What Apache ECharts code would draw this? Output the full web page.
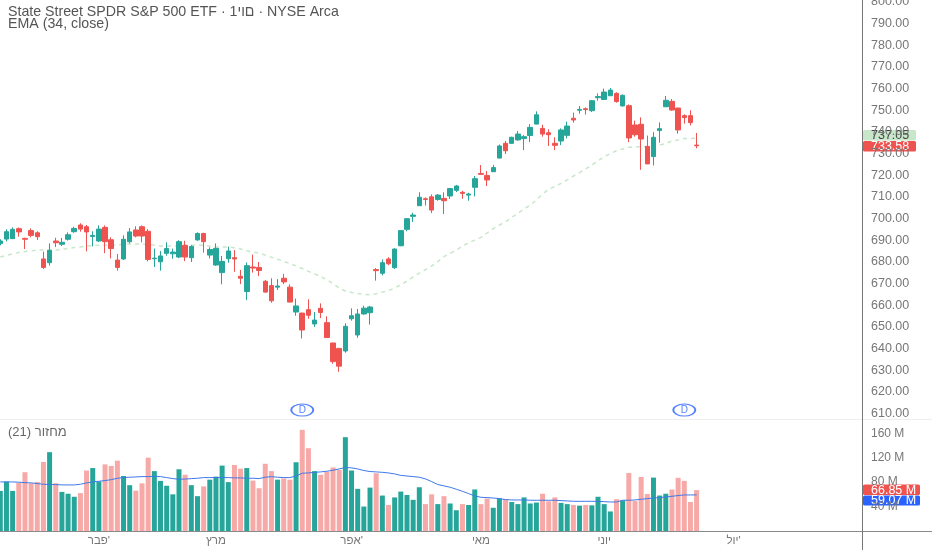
<!DOCTYPE html>
<html><head><meta charset="utf-8">
<style>html,body{margin:0;padding:0;background:#fff}#c{width:932px;height:550px}</style>
<script src="https://cdn.jsdelivr.net/npm/echarts@6/dist/echarts.min.js"></script>
</head><body><div id="c"></div>
<script>
// [open, close, low, high]
const candles = [
[688.5,689.6,687.6,690.4],[690.5,693.9,689.4,695.0],[690.7,695.0,690.5,695.9],[695.3,693.8,691.6,695.9],[690.8,690.4,685.9,691.1],
[694.4,692.2,691.3,695.4],[693.4,691.6,690.1,694.1],[681.3,677.4,676.7,684.7],[679.6,685.3,678.2,688.5],[689.6,688.8,686.8,691.1],
[688.1,689.0,687.3,691.0],[690.4,692.5,689.8,693.6],[693.9,695.4,693.4,696.2],[697.0,695.1,693.9,697.8],[696.2,693.8,684.8,697.0],
[691.7,692.2,687.1,694.1],[689.6,695.1,689.1,696.8],[695.9,689.3,684.0,696.8],[690.2,686.1,681.6,691.3],[680.8,677.4,675.9,683.6],
[681.3,690.4,680.8,692.2],[689.3,693.8,688.5,695.6],[694.7,691.9,691.3,696.4],[696.2,691.9,689.0,696.8],[694.1,681.1,680.2,695.1],
[681.4,681.7,677.6,686.1],[680.0,682.7,675.9,685.0],[683.9,686.1,682.8,689.0],[683.7,684.5,681.4,686.1],[682.2,689.3,681.7,690.0],
[687.6,682.2,680.3,689.7],[681.9,687.1,679.9,687.7],[690.1,693.1,689.7,693.6],[693.1,689.3,684.2,693.4],[683.1,685.7,681.6,686.7],
[678.5,686.2,678.2,688.5],[675.0,680.2,669.6,682.7],[681.4,685.0,679.6,687.0],[681.9,681.3,675.4,685.4],[673.3,672.4,669.7,676.2],
[666.3,678.2,662.3,679.7],[677.6,677.1,675.0,683.3],[677.4,676.0,673.4,679.9],[671.0,666.0,665.7,671.6],[669.0,662.0,661.1,672.4],
[668.3,668.8,667.0,672.0],[672.4,670.7,669.7,674.4],[668.3,661.4,661.3,669.6],[656.8,659.6,655.1,663.0],[656.3,648.5,644.6,656.5],
[657.9,655.3,653.7,662.7],[651.3,653.1,649.9,656.8],[658.5,656.6,654.0,660.8],[651.9,645.0,644.8,654.8],[642.5,633.9,632.9,642.6],
[640.0,631.8,629.2,640.2],[638.8,650.2,638.0,651.6],[653.7,655.1,652.8,658.5],[646.2,655.9,644.9,658.2],[655.9,658.6,655.6,659.7],
[656.5,659.1,651.0,659.6],[676.4,675.9,671.3,677.1],[674.7,679.6,673.7,681.1],[681.3,679.1,678.4,682.1],[677.3,685.9,676.7,686.2],
[687.4,694.4,687.2,694.7],[695.0,699.9,694.1,700.2],[701.0,701.6,698.4,702.7],[705.9,709.8,705.8,712.1],[709.1,708.8,706.0,709.8],
[710.0,703.9,702.5,711.1],[708.8,710.8,708.2,711.3],[709.3,708.2,702.1,712.1],[710.4,713.8,709.0,714.1],[713.0,715.0,712.2,715.5],
[712.1,711.6,709.1,712.8],[710.8,711.3,708.2,711.9],[714.4,718.4,710.2,719.6],[720.8,720.4,720.1,724.7],[719.9,717.8,715.0,721.9],
[721.6,723.5,721.5,724.8],[727.9,733.5,727.8,734.2],[734.7,731.3,729.8,735.8],[734.7,737.5,734.6,737.8],[736.3,739.0,735.9,740.4],
[736.9,737.8,731.6,738.6],[738.3,742.1,735.3,743.6],[743.6,747.9,743.5,749.5],[741.6,739.0,737.8,743.3],[739.6,738.7,733.5,741.2],
[734.7,733.8,731.6,737.5],[735.8,740.9,733.9,741.6],[738.4,742.7,737.0,744.7],[746.3,745.5,744.3,748.9],[750.0,750.4,748.4,752.0],
[750.7,750.3,748.0,751.3],[749.8,754.4,749.2,754.7],[755.8,756.3,754.4,757.8],[755.0,758.4,754.7,760.0],[756.7,759.3,756.6,760.3],
[757.8,754.0,753.5,758.3],[752.0,756.9,751.7,757.3],[752.1,737.2,735.3,752.7],[743.2,738.7,737.8,745.2],[743.5,736.7,722.5,746.7],
[733.3,725.2,725.2,738.3],[728.6,737.5,724.5,739.9],[740.6,741.5,735.0,744.4],[751.6,754.6,751.6,756.6],[754.1,750.1,749.8,755.2],
[751.0,740.9,739.2,751.2],[747.5,746.6,743.8,748.1],[747.5,744.3,743.0,750.0],[733.9,733.58,732.4,739.5]
];
const ema34 = [
682.2,683,683.7,684.3,684.7,685,685.5,685.5,685.5,685.5,685.6,686.2,686.6,686.8,687.3,687.5,687.7,687.7,687.7,687.7,
688.2,688.2,688.2,688.2,688,687.7,687.3,687.3,687.3,687.3,687.7,687.7,687.7,687.6,687.3,686.8,686.9,686.8,686.5,685.9,
685.1,684.5,684,683.1,682.1,681.2,680.2,679.2,678.1,676.9,675.6,674.4,673.1,671.7,669.9,667.9,666.5,665.8,665.4,664.9,
664.8,665.2,666,666.7,667.9,669.4,671.1,673,674.8,676.4,678,680.1,682.4,683.9,685.4,687.3,688.8,690,691.3,693.3,
695.3,697,698.5,700.5,702.4,704.4,706.2,708.5,711.3,713.5,714.8,716.2,717.8,719.6,721.2,722.9,724.7,726.6,728.5,730,
731.3,732.1,732.9,733,733.2,733.3,733.5,733.9,734.6,735.8,736.3,736.9,736.95,737.05
];
const volumes = [
65.6,80.9,65.6,78.7,96.2,78.1,80.3,113,129,78,64,61,56,62,99,103,81,109,106.5,115,
90,75,66,78,120,98,82,74,60,101,92,75,57,73,84,89,107,80,108,102,
103,82.5,70,110,98,84,86,84,112.5,165.5,135.5,98,92,97,104,100,153.5,99,69,40,
71,94.5,58,42.6,55,64.5,59,51,71.6,44,60,44,57,45,34,44,42.6,68,44,53,
38,53.5,52,47.5,44,55,45,46.5,61,48.6,55,46,44,42.6,41.5,42.6,42,56,44,32,
52,50,95,49,88.5,60.6,87.4,58,61,67.8,87,82,47.5,66.85
];
const volumeMa = [
80.3,80.3,80.3,79.8,79.2,78.7,77.6,76.5,76,76,75.4,75.4,75.4,76.5,78.7,80.3,81.4,82.5,84,86.3,
87.4,88,88.5,89,89,89.6,89,87.4,85.7,84.7,85,85.7,86.3,87.4,87.4,87.4,87.4,87.4,86.9,86.9,
86.3,86.3,85.8,88,89,88,87.4,87.4,90,94.5,95,96,96.7,97.8,99.4,101.6,103.8,103.3,101.6,99,
97.3,96.7,96,95,93.4,91,90,89,88,85.2,80.9,76,73.8,71.6,68.3,65,61.2,57.4,55.2,54.6,
54,53,51.4,50.8,50.8,50.8,50.3,50.3,50.3,50.3,50.3,49.7,49.2,48.6,48.6,48.6,48.6,48.6,48,47.5,
47.5,50.3,50.3,50.8,51.9,53,54,54.6,55.7,56.8,58,59,59,59.07
];
const slotCount = 140;
const monthIndex = [16,35,57,78,98,119];
const monthNames = ["פבר'","מרץ","אפר'","מאי","יוני","יול'"];
const dividendIndex = [49,111];
const priceTicksMin = 600, priceTicksMax = 810;

const UP='#26a69a', DOWN='#ef5350', UPV='#26a69a', DOWNV='#f7a9a7';
const FONT='"Liberation Sans",Arial,sans-serif';
const categories = Array.from({length:slotCount},(_,i)=>String(i));
const barSlot = 6.162, left = -barSlot/2 + 0.3, width = barSlot*slotCount;
const dividendData = dividendIndex.map(i=>[String(i),611.5]);

const chart = echarts.init(document.getElementById('c'),null,{renderer:'canvas'});
const tag=(x,y,w,h,fill,text,color,size)=>({type:'group',silent:true,z:200,children:[
 {type:'rect',shape:{x:x,y:y,width:w,height:h,r:1.5},style:{fill:fill}},
 {type:'text',style:{x:871,y:y+h/2+.5,text:text,fill:color,font:size+'px '+FONT,textAlign:'left',textVerticalAlign:'middle'}}
]});
const line=(x1,y1,x2,y2,c)=>({type:'line',silent:true,z:150,shape:{x1,y1,x2,y2},style:{stroke:c,lineWidth:1}});
const label=(x,y,t,size,c)=>({type:'text',silent:true,z:210,style:{x,y,text:t,fill:c,font:size+'px '+FONT,textVerticalAlign:'middle'}});

chart.setOption({
 animation:false,
 backgroundColor:'#fff',
 grid:[
  {left:left,width:width,top:-19.66,height:454.66,containLabel:false,outerBoundsMode:'none'},
  {left:left,width:width,top:421,height:110,containLabel:false,outerBoundsMode:'none'}
 ],
 xAxis:[
  {type:'category',gridIndex:0,data:categories,show:false},
  {type:'category',gridIndex:1,data:categories,axisLine:{show:false},axisTick:{show:false},splitLine:{show:false},
   axisLabel:{interval:0,hideOverlap:false,margin:4,fontSize:11.5,fontFamily:FONT,color:'#777',
    formatter:(v,i)=>{const k=monthIndex.indexOf(+v);return k<0?'':monthNames[k];}}}
 ],
 yAxis:[
  {type:'value',gridIndex:0,position:'right',min:priceTicksMin,max:priceTicksMax,interval:10,scale:true,
   axisLine:{show:false},axisTick:{show:false},splitLine:{show:false},
   axisLabel:{margin:11.1,fontSize:12.5,fontFamily:FONT,color:'#777',padding:[2,0,0,0],
    formatter:v=>(v<610||v>800)?'':v.toFixed(2)}},
  {type:'value',gridIndex:1,position:'right',min:0,max:180,interval:40,
   axisLine:{show:false},axisTick:{show:false},splitLine:{show:false},
   axisLabel:{margin:11.1,fontSize:12,fontFamily:FONT,color:'#777',
    formatter:v=>(v===0||v>160)?'':v+' M'}}
 ],
 series:[
  {type:'line',name:'EMA',xAxisIndex:0,yAxisIndex:0,data:ema34,symbol:'none',z:2,
   lineStyle:{color:'#c8e6c9',width:1.5,type:[4,4]}},
  {type:'candlestick',xAxisIndex:0,yAxisIndex:0,data:candles,barWidth:5,z:3,
   itemStyle:{color:UP,color0:DOWN,borderColor:UP,borderColor0:DOWN,borderWidth:1}},
  {type:'scatter',xAxisIndex:0,yAxisIndex:0,data:dividendData,symbol:'circle',symbolSize:[22,12],z:5,
   itemStyle:{color:'#fff',borderColor:'#2962ff',borderWidth:1.4},
   label:{show:true,position:'inside',formatter:'D',color:'#2962ff',fontSize:10,fontFamily:FONT}},
  {type:'bar',xAxisIndex:1,yAxisIndex:1,barWidth:5,z:2,
   data:volumes.map((v,i)=>({value:v,itemStyle:{color:candles[i][1]>=candles[i][0]?UPV:DOWNV}}))},
  {type:'line',xAxisIndex:1,yAxisIndex:1,data:volumeMa,symbol:'none',z:3,smooth:false,
   lineStyle:{color:'#3f78e8',width:1}}
 ],
 graphic:[
  line(0,419.5,932,419.5,'#eeeeee'),
  line(0,531.5,932,531.5,'#8a8a8a'),
  line(862.5,0,862.5,550,'#777777'),
  label(8,12,'State Street SPDR S&P 500 ETF · \u202D1יום\u202C · NYSE Arca',14.2,'#555'),
  label(8,24,'EMA (34, close)',14.2,'#555'),
  label(8,432,'מחזור (21)',13,'#666'),
  tag(863,130,53,10.5,'#c8e6c9','737.05','#444',12.5),
  tag(863,141,53,10.5,'#ef5350','733.58','#fff',12.5),
  tag(863,484.5,57,10.5,'#ef5350','66.85 M','#fff',12.5),
  tag(863,495.5,57,10,'#2962ff','59.07 M','#fff',12.5)
 ]
});
</script></body></html>
